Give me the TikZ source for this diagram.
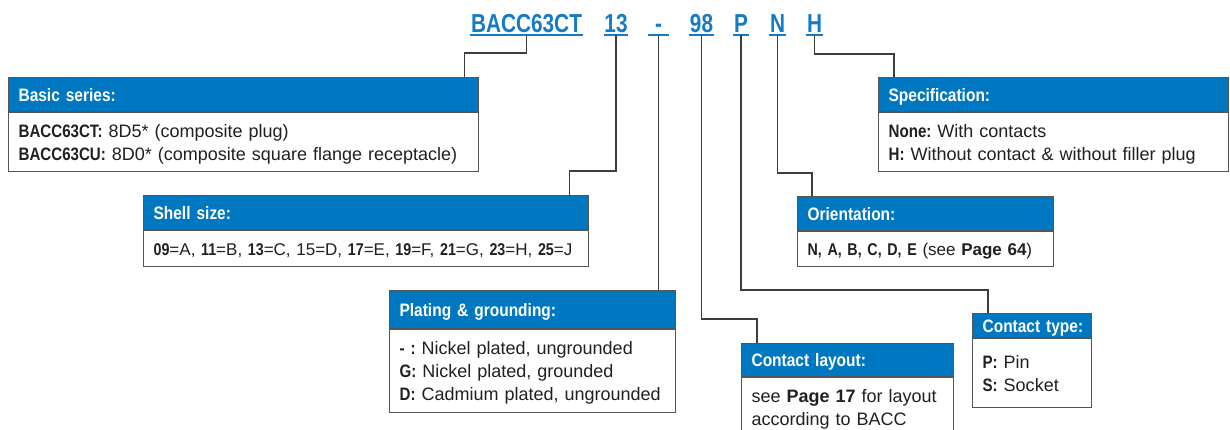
\documentclass[tikz,border=0pt]{standalone}
\usepackage{fontspec}
\usepackage{xcolor}
\usepackage{tikz}
\usetikzlibrary{positioning,calc}
\setmainfont{Liberation Sans}[BoldFeatures={FakeStretch=0.84}]
\newfontfamily\hdrfont{Liberation Sans}[FakeStretch=0.86]
\newfontfamily\codefont{Liberation Sans}[FakeStretch=0.8]
\newfontfamily\widefont{Liberation Sans}
\newcommand{\pagebold}[1]{{\widefont\bfseries Page~#1}}
\definecolor{HdrBlue}{HTML}{0078C1}
\definecolor{CodeBlue}{HTML}{157BC5}
\definecolor{FrameGray}{HTML}{555555}
\definecolor{LineGray}{HTML}{3D3D3D}
\definecolor{TextGray}{HTML}{231F20}
\tikzset{
    % Part number code on top
    codenode/.style={
        anchor=south,
        inner xsep=0.5pt,
        inner ysep=2pt,
        text depth=0pt,
        text=CodeBlue,
        font=\codefont\fontsize{26}{28}\selectfont\bfseries
    },
    % Underline of the code
    codeline/.style={
        draw=CodeBlue,
        line width=1.4pt
    },
    % Blue header of a box
    hdrbox/.style={
        anchor=north west,
        draw=FrameGray,
        fill=HdrBlue,
        line width=1.2pt,
        inner xsep=10pt,
        inner ysep=0pt,
        text height=13pt,
        text depth=0pt,
        align=left,
        text=white,
        font=\hdrfont\fontsize{18}{22}\selectfont\bfseries
    },
    % White body of a box
    bodybox/.style={
        draw=FrameGray,
        fill=white,
        line width=1.2pt,
        inner xsep=10pt,
        inner ysep=0pt,
        text height=13pt,
        align=left,
        text=TextGray,
        font=\fontsize{18}{23}\selectfont\frenchspacing
    },
    % Connector line
    conn/.style={
        draw=LineGray,
        line width=1.3pt
    }
}
\begin{document}
\begin{tikzpicture}[x=1pt, y=-1pt]
        \useasboundingbox[fill=white] (0,0) rectangle (1230,430);

        % Code parts
        \node[codenode] (bacc) at (526.5,35) {BACC63CT};
        \node[codenode] (size) at (616,35) {13};
        \node[codenode, minimum width=21pt] (plate) at (658.5,35) {-};
        \node[codenode] (layout) at (701.5,35) {98};
        \node[codenode] (ctype) at (741,35) {P};
        \node[codenode] (orient) at (777.5,35) {N};
        \node[codenode] (spec) at (814.5,35) {H};
        \foreach \n in {bacc,size,plate,layout,ctype,orient,spec}
            \draw[codeline] (\n.south west) -- (\n.south east);

        % Boxes
        \node[hdrbox, text width=450pt, minimum height=34pt] (basichead) at (8,77) {Basic series:};
        \node[bodybox, text width=450pt, minimum height=59pt, text depth=23pt, below=0pt of basichead] (basicbody)
            {\textbf{BACC63CT:} 8D5* (composite plug)\\
             \textbf{BACC63CU:} 8D0* (composite square flange receptacle)};

        \node[hdrbox, text width=425pt, minimum height=34pt] (shellhead) at (143,195) {Shell size:};
        \node[bodybox, text width=425pt, minimum height=36pt, text depth=0pt, below=0pt of shellhead,
              font=\fontsize{17}{23}\selectfont\frenchspacing] (shellbody)
            {\textbf{09}=A, \textbf{11}=B, \textbf{13}=C, 15=D, \textbf{17}=E, \textbf{19}=F, \textbf{21}=G, \textbf{23}=H, \textbf{25}=J};

        \node[hdrbox, text width=266pt, minimum height=38pt] (platehead) at (389,290) {Plating \& grounding:};
        \node[bodybox, text width=266pt, minimum height=83pt, text depth=46pt, below=0pt of platehead] (platebody)
            {\textbf{- :} Nickel plated, ungrounded\\
             \textbf{G:} Nickel plated, grounded\\
             \textbf{D:} Cadmium plated, ungrounded};

        \node[hdrbox, text width=192pt, minimum height=33pt] (layouthead) at (741,343) {Contact layout:};
        \node[bodybox, text width=192pt, minimum height=59pt, text depth=23pt, below=0pt of layouthead] (layoutbody)
            {see \pagebold{17} for layout\\
             according to BACC};

        \node[hdrbox, text width=99pt, minimum height=24pt] (ctypehead) at (972,313) {Contact~type:};
        \node[bodybox, text width=99pt, minimum height=69pt, text depth=23pt, below=0pt of ctypehead] (ctypebody)
            {\textbf{P:} Pin\\
             \textbf{S:} Socket};

        \node[hdrbox, text width=236pt, minimum height=34pt] (orienthead) at (797,196) {Orientation:};
        \node[bodybox, text width=236pt, minimum height=35pt, text depth=0pt, below=0pt of orienthead,
              font=\fontsize{17}{23}\selectfont\frenchspacing] (orientbody)
            {\textbf{N, A, B, C, D, E} (see~\pagebold{64})};

        \node[hdrbox, text width=330pt, minimum height=34pt] (spechead) at (878,77) {Specification:};
        \node[bodybox, text width=330pt, minimum height=59pt, text depth=23pt, below=0pt of spechead] (specbody)
            {\textbf{None:} With contacts\\
             \textbf{H:} Without contact \& without filler plug};

        % Connectors
        \draw[conn] (bacc.south) -- ++(0,18) -| ([xshift=-15pt]basichead.north east);
        \draw[conn] (size.south) -- ++(0,136) -| ([xshift=-20pt]shellhead.north east);
        \draw[conn] (plate.south) -- (plate.south |- platehead.north);
        \draw[conn] (layout.south) -- ++(0,284) -| ([xshift=16pt]layouthead.north west);
        \draw[conn] (ctype.south) -- ++(0,255) -| ([xshift=16pt]ctypehead.north west);
        \draw[conn] (orient.south) -- ++(0,138) -| ([xshift=15pt]orienthead.north west);
        \draw[conn] (spec.south) -- ++(0,19) -| ([xshift=16pt]spechead.north west);
    \end{tikzpicture}
\end{document}
